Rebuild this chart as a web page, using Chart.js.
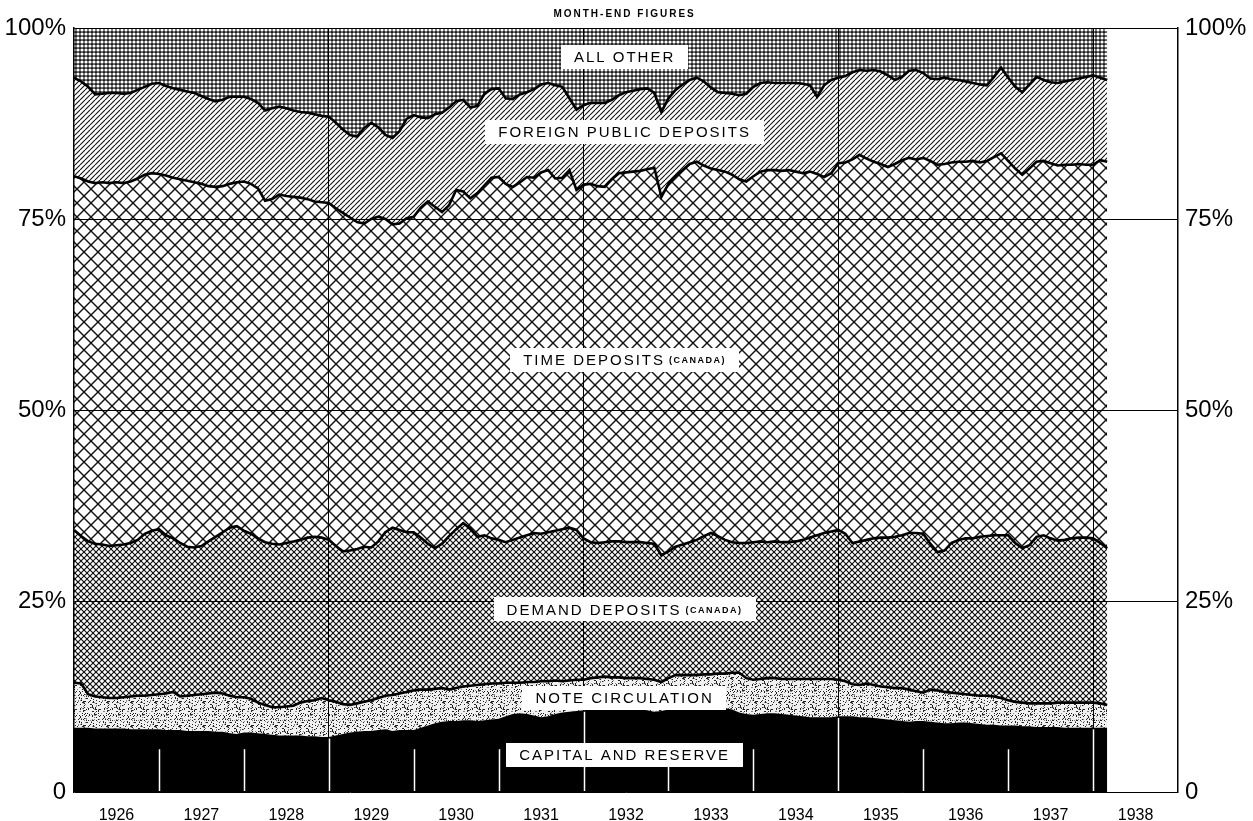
<!DOCTYPE html>
<html>
<head>
<meta charset="utf-8">
<script src="https://cdn.jsdelivr.net/npm/chart.js@4.4.0/dist/chart.umd.min.js"></script>
<style>
  body { margin: 0; background: #fff; }
</style>
</head>
<body>
<canvas id="myChart" width="1253" height="821"></canvas>
<script>
// month-end figures, Jan 1926 .. Mar 1938 (index 0 = Jan 1926)
const yearLabels = ['1926', '1927', '1928', '1929', '1930', '1931', '1932', '1933', '1934', '1935', '1936', '1937', '1938'];
const yTicks = [0, 25, 50, 75, 100];
const yTickLabels = ['0', '25%', '50%', '75%', '100%'];
const seriesNames = ['CAPITAL AND RESERVE', 'NOTE CIRCULATION', 'DEMAND DEPOSITS', 'TIME DEPOSITS', 'FOREIGN PUBLIC DEPOSITS', 'ALL OTHER'];

// cumulative % of total liabilities (top edge of each band)
const capitalTop = [
  8.4, 8.4, 8.4, 8.3, 8.3, 8.3, 8.3, 8.3, 8.2, 8.2, 8.2, 8.2,
  8.2, 8.1, 8.1, 8.1, 8.0, 8.0, 8.0, 8.0, 7.9, 7.9, 7.7, 7.6,
  7.8, 7.8, 7.7, 7.6, 7.5, 7.4, 7.4, 7.4, 7.4, 7.3, 7.3, 7.2,
  7.2, 7.4, 7.6, 7.8, 7.9, 8.0, 8.0, 8.1, 8.2, 8.0, 8.1, 8.1,
  8.1, 8.4, 8.7, 9.0, 9.2, 9.3, 9.3, 9.4, 9.4, 9.3, 9.4, 9.5,
  9.6, 9.9, 10.2, 10.3, 10.2, 10.0, 9.8, 9.9, 10.2, 10.4, 10.5, 10.6,
  10.7, 10.8, 10.8, 10.9, 10.9, 11.0, 10.9, 10.9, 10.8, 10.7, 10.5, 10.6,
  10.8, 11.0, 11.1, 11.1, 11.1, 11.2, 11.1, 11.1, 11.0, 10.8, 10.4, 10.2,
  10.1, 10.2, 10.3, 10.3, 10.2, 10.1, 10.0, 9.9, 9.8, 9.8, 9.8, 9.8,
  9.9, 9.9, 9.9, 9.8, 9.8, 9.7, 9.6, 9.5, 9.4, 9.3, 9.2, 9.3,
  9.3, 9.2, 9.1, 9.0, 9.0, 9.1, 9.1, 9.0, 8.9, 8.8, 8.8, 8.7,
  8.7, 8.7, 8.6, 8.6, 8.5, 8.5, 8.5, 8.5, 8.4, 8.4, 8.4, 8.4,
  8.4, 8.4, 8.4
];
const noteTop = [
  14.3, 14.2, 12.8, 12.5, 12.4, 12.3, 12.3, 12.4, 12.5, 12.6, 12.6, 12.7,
  12.8, 12.9, 13.1, 12.5, 12.6, 12.7, 12.8, 12.9, 13.0, 12.9, 12.6, 12.4,
  12.4, 12.2, 11.7, 11.4, 11.1, 11.1, 11.2, 11.3, 11.7, 11.9, 12.0, 12.3,
  12.0, 11.8, 11.5, 11.4, 11.6, 11.8, 12.0, 12.3, 12.6, 12.7, 12.9, 13.1,
  13.3, 13.4, 13.4, 13.5, 13.6, 13.4, 13.6, 13.8, 13.9, 14.0, 14.1, 14.2,
  14.2, 14.3, 14.3, 14.3, 14.4, 14.4, 14.5, 14.5, 14.6, 14.5, 14.6, 14.7,
  14.7, 14.9, 15.0, 15.1, 15.0, 15.0, 14.9, 14.9, 14.9, 14.8, 14.7, 14.4,
  14.9, 15.3, 15.3, 15.3, 15.3, 15.4, 15.4, 15.5, 15.5, 15.6, 15.6, 14.9,
  14.7, 14.8, 14.9, 14.9, 14.8, 14.8, 14.8, 14.8, 14.8, 14.8, 14.8, 14.8,
  14.7, 14.5, 14.1, 14.0, 14.2, 14.0, 13.8, 13.7, 13.6, 13.6, 13.4, 13.2,
  13.0, 13.4, 13.3, 13.1, 13.0, 12.9, 12.8, 12.7, 12.6, 12.6, 12.5, 12.3,
  12.0, 11.8, 11.7, 11.6, 11.6, 11.6, 11.6, 11.7, 11.7, 11.7, 11.7, 11.7,
  11.7, 11.6, 11.4
];
const demandTop = [
  34.3, 33.5, 32.8, 32.5, 32.4, 32.2, 32.3, 32.4, 32.6, 33.0, 33.8, 34.2,
  34.4, 33.6, 33.2, 32.6, 32.1, 32.0, 32.2, 32.8, 33.4, 34.0, 34.6, 34.8,
  34.2, 33.8, 33.2, 32.7, 32.5, 32.4, 32.6, 32.8, 33.0, 33.3, 33.4, 33.3,
  33.0, 32.2, 31.5, 31.6, 31.8, 32.1, 32.0, 32.8, 34.0, 34.6, 34.3, 34.0,
  34.0, 33.3, 32.5, 31.9, 32.5, 33.5, 34.4, 35.2, 34.5, 33.4, 33.6, 33.2,
  33.0, 32.7, 33.0, 33.3, 33.6, 33.9, 33.8, 34.0, 34.2, 34.4, 34.6, 34.3,
  33.2, 32.7, 32.6, 32.7, 32.8, 32.8, 32.7, 32.7, 32.7, 32.6, 32.5, 31.0,
  31.5, 32.1, 32.4, 32.7, 33.0, 33.5, 33.9, 33.5, 33.0, 32.7, 32.6, 32.6,
  32.7, 32.8, 32.7, 32.8, 32.7, 32.7, 32.8, 33.0, 33.3, 33.6, 33.9, 34.1,
  34.3, 33.8, 32.6, 32.8, 33.0, 33.2, 33.3, 33.3, 33.4, 33.6, 33.9, 33.9,
  33.8, 32.5, 31.4, 31.6, 32.6, 33.0, 33.2, 33.2, 33.4, 33.5, 33.6, 33.6,
  33.6, 32.6, 31.9, 32.3, 33.4, 33.6, 33.2, 32.9, 33.0, 33.2, 33.3, 33.3,
  33.2, 32.6, 31.9
];
const timeTop = [
  80.6, 80.3, 79.9, 79.7, 79.8, 79.7, 79.8, 79.7, 79.9, 80.3, 80.8, 81.0,
  80.9, 80.7, 80.4, 80.2, 80.0, 79.8, 79.6, 79.3, 79.2, 79.3, 79.6, 79.8,
  79.9, 79.6, 79.0, 77.4, 77.6, 78.2, 78.0, 77.9, 77.8, 77.6, 77.3, 77.2,
  77.1, 76.4, 75.8, 75.2, 74.6, 74.4, 75.0, 75.3, 75.0, 74.3, 74.4, 75.1,
  75.3, 76.5, 77.3, 76.6, 75.9, 76.8, 78.8, 78.6, 77.7, 78.4, 79.4, 80.4,
  80.5, 79.6, 79.2, 79.8, 80.5, 80.4, 81.1, 81.4, 80.3, 80.4, 81.4, 78.8,
  79.5, 79.6, 79.3, 79.2, 80.2, 81.0, 81.1, 81.2, 81.3, 81.5, 81.7, 77.9,
  79.6, 80.6, 81.4, 82.2, 82.5, 82.0, 81.6, 81.4, 81.2, 80.8, 80.2, 79.9,
  80.6, 81.2, 81.4, 81.4, 81.3, 81.4, 81.2, 81.0, 81.2, 80.9, 80.5, 81.0,
  82.3, 82.4, 82.8, 83.4, 82.9, 82.5, 82.2, 81.8, 82.2, 82.7, 83.0, 82.8,
  83.0, 82.6, 82.1, 82.2, 82.4, 82.5, 82.5, 82.6, 82.4, 82.6, 83.1, 83.6,
  82.6, 81.6, 80.8, 81.6, 82.5, 82.6, 82.3, 82.0, 82.1, 82.1, 82.2, 82.1,
  82.1, 82.7, 82.5
];
const foreignTop = [
  93.5, 93.0, 92.3, 91.3, 91.4, 91.5, 91.5, 91.4, 91.5, 91.9, 92.3, 92.7,
  92.8, 92.4, 92.1, 91.9, 91.7, 91.5, 91.1, 90.7, 90.4, 90.6, 91.0, 91.0,
  91.0, 90.7, 90.2, 89.2, 89.5, 89.7, 89.5, 89.2, 89.0, 88.9, 88.7, 88.5,
  88.4, 87.6, 86.7, 86.0, 85.8, 86.9, 87.6, 87.0, 86.0, 85.6, 86.5, 88.1,
  88.6, 88.3, 88.2, 88.7, 88.9, 89.6, 90.4, 90.6, 89.6, 89.8, 91.4, 92.0,
  92.1, 90.8, 90.7, 91.3, 91.6, 92.0, 92.6, 92.8, 92.5, 92.3, 90.8, 89.3,
  89.9, 90.2, 90.2, 90.2, 90.6, 91.2, 91.6, 91.8, 92.0, 92.1, 91.5, 89.0,
  90.8, 91.9, 92.6, 93.2, 93.5, 93.0, 92.2, 91.6, 91.5, 91.4, 91.2, 91.4,
  92.3, 92.8, 92.9, 92.8, 92.8, 92.8, 92.8, 92.7, 92.5, 91.0, 92.5, 93.2,
  93.5, 93.7, 94.2, 94.5, 94.4, 94.5, 94.3, 93.8, 93.2, 93.6, 94.4, 94.5,
  94.1, 93.4, 93.3, 93.5, 93.3, 93.2, 93.0, 92.8, 92.6, 92.5, 93.6, 94.8,
  93.5, 92.3, 91.6, 92.6, 93.6, 93.2, 92.9, 92.8, 93.0, 93.2, 93.4, 93.6,
  93.8, 93.5, 93.2
];
const allTop = capitalTop.map(() => 100);

const majorLines = [36, 72, 108, 144];   // full-height rules: 1929, 1932, 1935, 1938

// ---- hatching -----------------------------------------------------------
function makePattern(size, draw) {
  const c = document.createElement('canvas');
  c.width = size; c.height = size;
  const g = c.getContext('2d');
  draw(g, size);
  return g.createPattern(c, 'repeat');
}
function diagonals(g, s, both) {
  for (const o of [-s, 0, s]) {
    g.beginPath(); g.moveTo(o, s); g.lineTo(o + s, 0); g.stroke();
    if (both) { g.beginPath(); g.moveTo(o, 0); g.lineTo(o + s, s); g.stroke(); }
  }
}
const stipple = makePattern(24, (g, s) => {
  g.fillStyle = '#f0f0f0'; g.fillRect(0, 0, s, s);
  let seed = 11;
  const next = () => { seed = (seed * 16807) % 2147483647; return seed / 2147483647; };
  for (let i = 0; i < 150; i++) {
    g.fillStyle = i % 3 ? '#222' : '#888';
    g.fillRect(Math.floor(next() * s), Math.floor(next() * s), 1, 1);
  }
});
const fineCross = makePattern(6, (g, s) => {
  g.fillStyle = '#fff'; g.fillRect(0, 0, s, s);
  g.strokeStyle = '#111'; g.lineWidth = 1.2; diagonals(g, s, true);
});
const openCross = makePattern(14, (g, s) => {
  g.fillStyle = '#fff'; g.fillRect(0, 0, s, s);
  g.strokeStyle = '#111'; g.lineWidth = 1.4; diagonals(g, s, true);
});
const slash = makePattern(5, (g, s) => {
  g.fillStyle = '#fff'; g.fillRect(0, 0, s, s);
  g.strokeStyle = '#111'; g.lineWidth = 1.1; diagonals(g, s, false);
});
const dots = makePattern(4, (g, s) => {
  g.fillStyle = '#222'; g.fillRect(0, 0, s, s);
  g.fillStyle = '#fff'; g.beginPath(); g.arc(2, 2, 1.6, 0, Math.PI * 2); g.fill();
});

const tops = [capitalTop, noteTop, demandTop, timeTop, foreignTop, allTop];
const fills = ['#000', stipple, fineCross, openCross, slash, dots];
const edges = [0, 2.6, 2.6, 2.6, 2.6, 0];

const datasets = tops.map((arr, i) => ({
  label: seriesNames[i],
  data: arr.map((v, m) => ({ x: m, y: v })),
  backgroundColor: fills[i],
  borderColor: '#000',
  borderWidth: edges[i],
  fill: i === 0 ? 'origin' : '-1',
  pointRadius: 0,
  tension: 0
}));

// ---- labels & overlays --------------------------------------------------
const bandLabels = [
  { text: 'CAPITAL AND RESERVE', m: 77.8, v: 4.8 },
  { text: 'NOTE CIRCULATION', m: 77.8, v: 12.3 },
  { text: 'DEMAND DEPOSITS', sub: '(CANADA)', m: 77.8, v: 23.9 },
  { text: 'TIME DEPOSITS', sub: '(CANADA)', m: 77.8, v: 56.6 },
  { text: 'FOREIGN PUBLIC DEPOSITS', m: 77.8, v: 86.4 },
  { text: 'ALL OTHER', m: 77.8, v: 96.2 }
];

function drawBandLabel(ctx, cx, cy, main, sub) {
  ctx.font = '15px "Liberation Sans", Arial, sans-serif';
  ctx.letterSpacing = '2px';
  const w1 = ctx.measureText(main).width;
  let w2 = 0;
  if (sub) {
    ctx.font = 'bold 9px "Liberation Sans", Arial, sans-serif';
    ctx.letterSpacing = '1.5px';
    w2 = ctx.measureText(sub).width + 4;
  }
  const w = w1 + w2;
  ctx.fillStyle = '#fff';
  ctx.fillRect(Math.round(cx - w / 2 - 13), Math.round(cy - 12), Math.round(w + 26), 24);
  ctx.fillStyle = '#000';
  ctx.textAlign = 'left';
  ctx.textBaseline = 'middle';
  ctx.font = '15px "Liberation Sans", Arial, sans-serif';
  ctx.letterSpacing = '2px';
  ctx.fillText(main, cx - w / 2, cy + 1);
  if (sub) {
    ctx.font = 'bold 9px "Liberation Sans", Arial, sans-serif';
    ctx.letterSpacing = '1.5px';
    ctx.fillText(sub, cx - w / 2 + w1 + 4, cy + 1);
  }
}

const overlay = {
  id: 'overlay',
  afterDraw(chart) {
    const { ctx, chartArea: a, scales: { x, y } } = chart;
    ctx.save();
    // white year marks cut into the black band
    ctx.strokeStyle = '#fff';
    ctx.lineWidth = 1.5;
    for (let k = 1; k <= 12; k++) {
      const m = 12 * k;
      const px = Math.round(x.getPixelForValue(m)) + 0.5;
      const topVal = majorLines.includes(m) ? capitalTop[m] - 0.2 : 5.6;
      ctx.beginPath();
      ctx.moveTo(px, a.bottom - 1);
      ctx.lineTo(px, y.getPixelForValue(topVal));
      ctx.stroke();
    }
    bandLabels.forEach(l => {
      drawBandLabel(ctx, x.getPixelForValue(l.m), y.getPixelForValue(l.v), l.text, l.sub);
    });
    // heading
    ctx.fillStyle = '#000';
    ctx.font = 'bold 10px "Liberation Sans", Arial, sans-serif';
    ctx.letterSpacing = '2px';
    ctx.textAlign = 'center';
    ctx.textBaseline = 'middle';
    ctx.fillText('MONTH-END FIGURES', x.getPixelForValue(77.8), 14);
    ctx.restore();
  }
};

const tickFont = { family: '"Liberation Sans", Arial, sans-serif', size: 24 };

const ctx = document.getElementById('myChart').getContext('2d');
const myChart = new Chart(ctx, {
  type: 'line',
  data: { datasets: datasets },
  options: {
    responsive: false,
    animation: false,
    layout: { padding: { top: 28 } },
    plugins: {
      legend: { display: false },
      tooltip: { enabled: false },
      filler: { propagate: false }
    },
    scales: {
      x: {
        type: 'linear',
        min: 0, max: 156,
        position: 'bottom',
        grid: { display: false },
        border: { display: false },
        afterBuildTicks: s => { s.ticks = yearLabels.map((_, i) => ({ value: 6 + 12 * i })); },
        afterFit: s => { s.height = 29; },
        ticks: {
          autoSkip: false,
          maxRotation: 0,
          padding: 6,
          color: '#000',
          font: { family: '"Liberation Sans", Arial, sans-serif', size: 16 },
          callback: v => yearLabels[Math.round((v - 6) / 12)]
        }
      },
      xg: {
        type: 'linear',
        min: 0, max: 156,
        position: 'bottom',
        afterBuildTicks: s => { s.ticks = majorLines.map(v => ({ value: v })); },
        afterFit: s => { s.height = 0; },
        grid: { z: 1, color: '#000', lineWidth: 1, drawTicks: false },
        border: { display: false },
        ticks: { display: false }
      },
      y: {
        min: 0, max: 100,
        position: 'left',
        afterBuildTicks: s => { s.ticks = yTicks.map(v => ({ value: v })); },
        afterFit: s => { s.width = 74; },
        grid: { z: 1, color: '#000', lineWidth: 1, drawTicks: false },
        border: { display: true, color: '#000', width: 1.5, z: 1 },
        ticks: {
          padding: 8,
          color: '#000',
          font: tickFont,
          callback: v => yTickLabels[yTicks.indexOf(v)]
        }
      },
      y2: {
        min: 0, max: 100,
        position: 'right',
        afterBuildTicks: s => { s.ticks = yTicks.map(v => ({ value: v })); },
        afterFit: s => { s.width = 75; },
        grid: { display: false, drawTicks: false },
        border: { display: true, color: '#000', width: 1.5, z: 1 },
        ticks: {
          padding: 7,
          color: '#000',
          font: tickFont,
          callback: v => yTickLabels[yTicks.indexOf(v)]
        }
      }
    }
  },
  plugins: [overlay]
});
</script>
</body>
</html>
